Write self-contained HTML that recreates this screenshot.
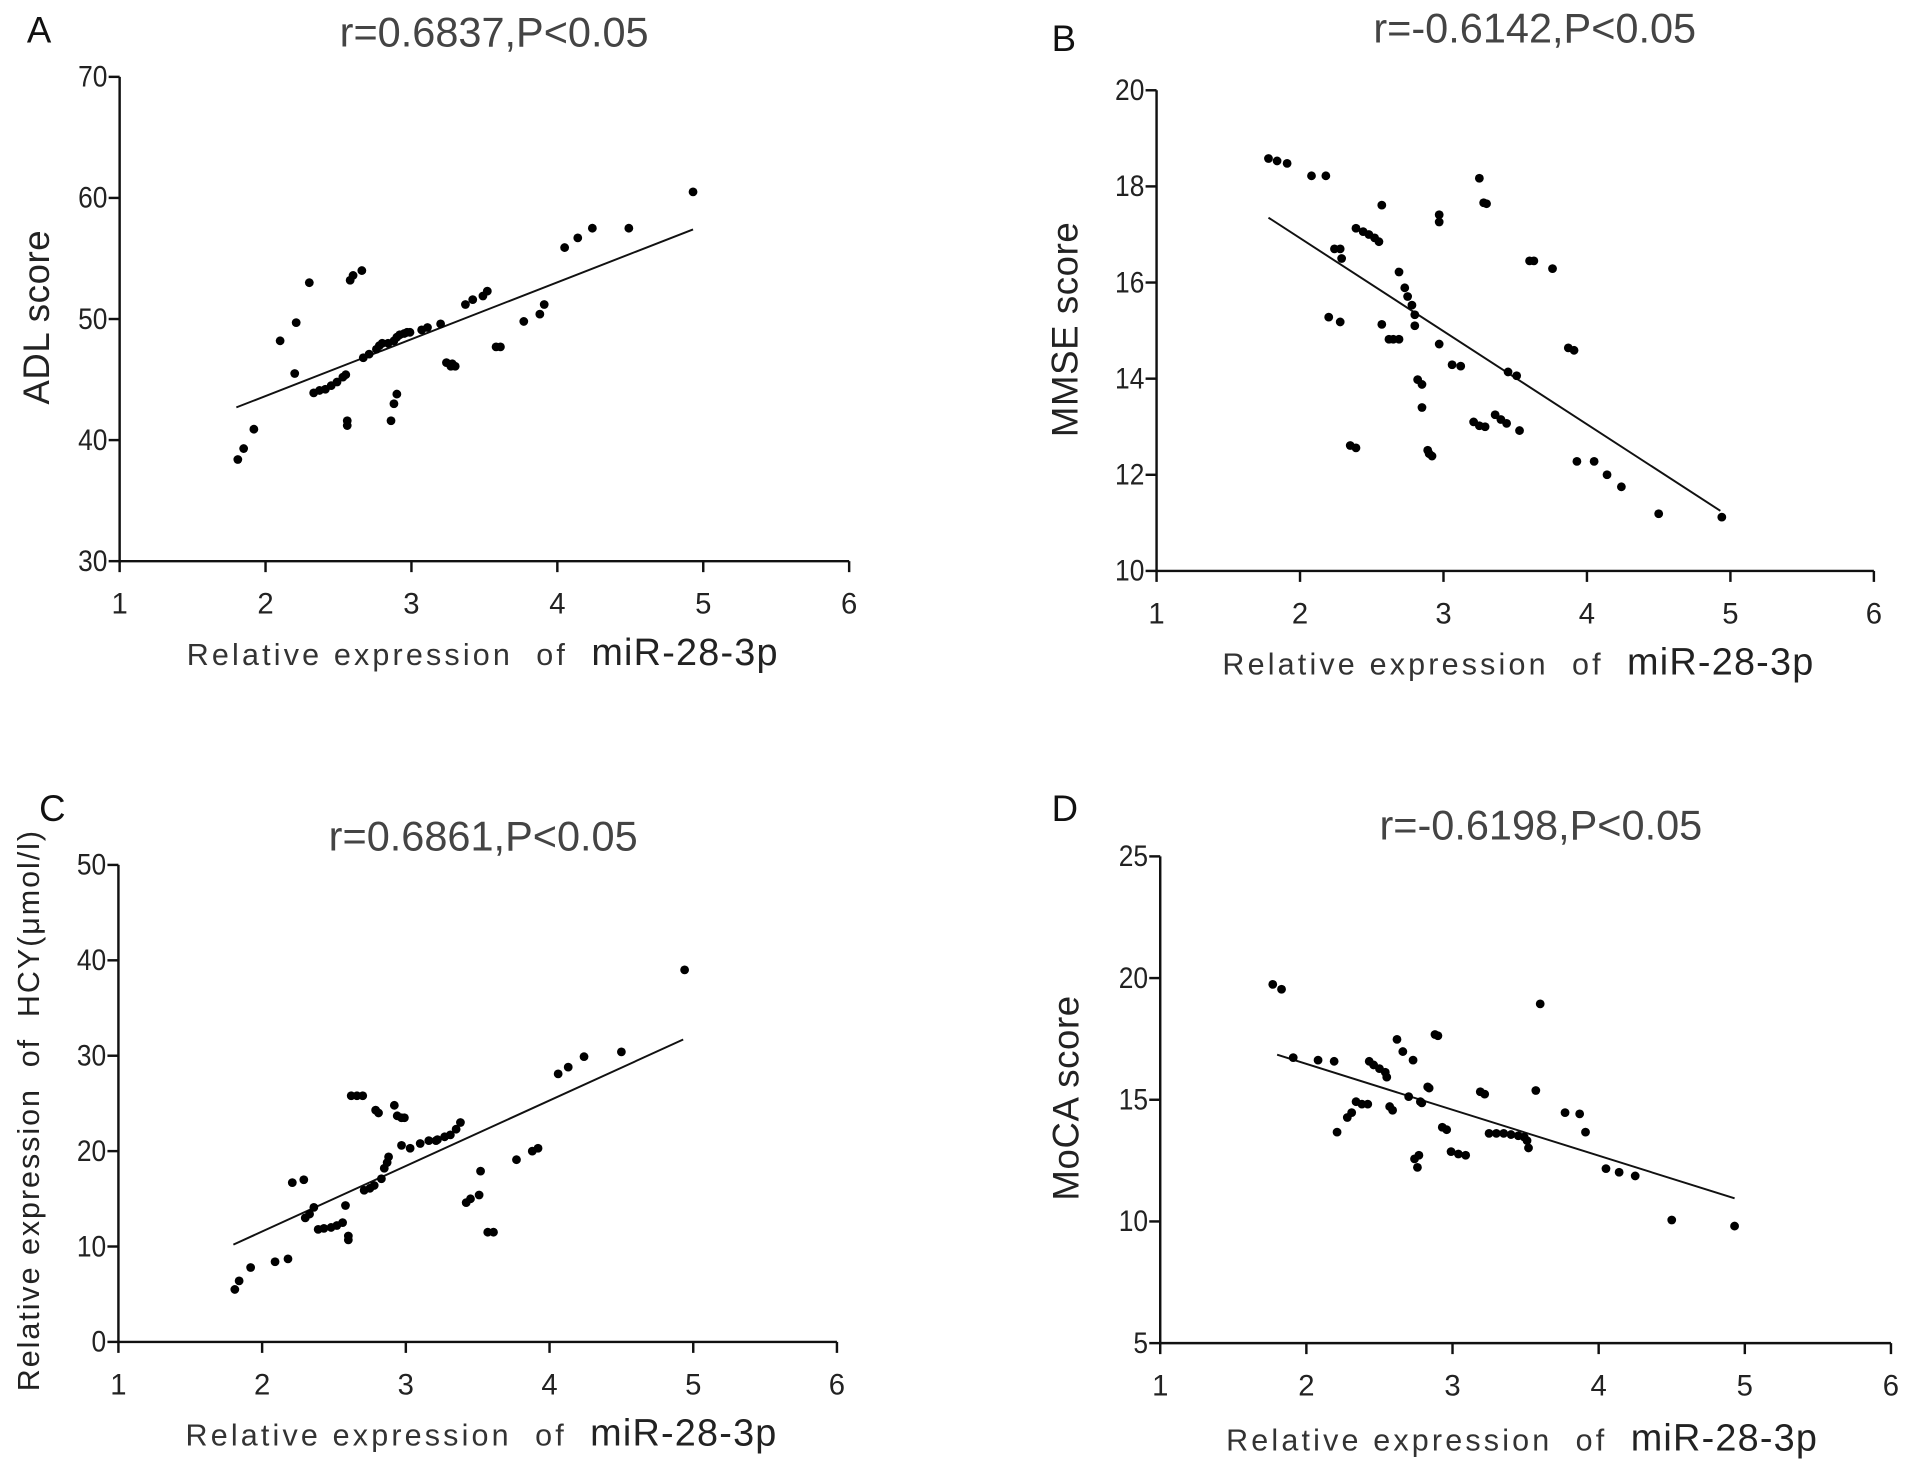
<!DOCTYPE html>
<html><head><meta charset="utf-8">
<style>
html,body{margin:0;padding:0;background:#fff;}
svg{display:block;}
text{font-family:"Liberation Sans",sans-serif;white-space:pre;}
</style></head>
<body>
<svg id="fig" width="1913" height="1470" viewBox="0 0 1568 1205" xmlns="http://www.w3.org/2000/svg"></svg>
<script>
// Panel A: ADL score
const axA = [1.81,1.85,1.92,2.10,2.20,2.21,2.30,2.33,2.37,2.41,2.45,2.49,2.53,2.55,2.56,2.56,2.58,2.60,2.66,2.67,2.71,2.76,2.78,2.80,2.84,2.88,2.90,2.92,2.95,2.97,2.99,2.86,2.88,2.90,3.07,3.11,3.20,3.24,3.27,3.28,3.30,3.37,3.42,3.49,3.52,3.58,3.61,3.77,3.88,3.91,4.05,4.14,4.24,4.49,4.93];
const ayA = [38.4,39.3,40.9,48.2,45.5,49.7,53.0,43.9,44.1,44.2,44.5,44.8,45.2,45.4,41.6,41.2,53.2,53.6,54.0,46.8,47.1,47.5,47.8,48.0,48.0,48.2,48.5,48.7,48.8,48.9,48.9,41.6,43.0,43.8,49.1,49.3,49.6,46.4,46.1,46.3,46.1,51.2,51.6,51.9,52.3,47.7,47.7,49.8,50.4,51.2,55.9,56.7,57.5,57.5,60.5];
const fitA = [[1.8,42.7],[4.93,57.4]];
const yTicksA = [30,40,50,60,70];
// Panel B: MMSE score
const axB = [1.78,1.84,1.91,2.08,2.18,2.24,2.28,2.29,2.20,2.28,2.39,2.44,2.48,2.52,2.55,2.57,2.35,2.39,2.57,2.62,2.65,2.69,2.69,2.73,2.75,2.78,2.80,2.80,2.82,2.85,2.85,2.89,2.90,2.92,2.97,2.97,2.97,3.06,3.12,3.21,3.25,3.29,3.25,3.28,3.30,3.36,3.40,3.44,3.45,3.51,3.53,3.60,3.63,3.76,3.87,3.91,3.93,4.05,4.14,4.24,4.50,4.94];
const ayB = [18.58,18.53,18.48,18.22,18.22,16.70,16.70,16.50,15.28,15.18,17.13,17.06,17.00,16.93,16.85,17.61,12.61,12.56,15.13,14.82,14.82,14.82,16.22,15.89,15.71,15.53,15.33,15.10,13.98,13.88,13.40,12.51,12.44,12.39,14.72,17.41,17.26,14.29,14.26,13.10,13.02,13.00,18.17,17.66,17.64,13.25,13.15,13.07,14.14,14.06,12.92,16.45,16.45,16.29,14.64,14.59,12.28,12.28,12.00,11.75,11.19,11.12];
const fitB = [[1.78,17.35],[4.93,11.25]];
const yTicksB = [10,12,14,16,18,20];
// Panel C: HCY
const axC = [1.81,1.84,1.92,2.09,2.18,2.21,2.29,2.30,2.33,2.36,2.39,2.43,2.48,2.52,2.56,2.58,2.60,2.60,2.62,2.66,2.70,2.71,2.75,2.78,2.79,2.81,2.83,2.85,2.87,2.88,2.92,2.94,2.97,2.99,2.97,3.03,3.10,3.16,3.21,3.22,3.27,3.31,3.35,3.38,3.42,3.45,3.51,3.52,3.57,3.61,3.77,3.88,3.92,4.06,4.13,4.24,4.50,4.94];
const ayC = [5.5,6.4,7.8,8.4,8.7,16.7,17.0,13.0,13.4,14.1,11.8,11.9,12.0,12.2,12.5,14.3,11.1,10.7,25.8,25.8,25.8,15.9,16.1,16.4,24.3,24.0,17.1,18.2,18.8,19.4,24.8,23.7,23.5,23.5,20.6,20.3,20.8,21.1,21.1,21.2,21.5,21.7,22.3,23.0,14.6,15.0,15.4,17.9,11.5,11.5,19.1,20.0,20.3,28.1,28.8,29.9,30.4,39.0];
const fitC = [[1.8,10.2],[4.93,31.7]];
const yTicksC = [0,10,20,30,40,50];
// Panel D: MoCA score
const axD = [1.77,1.83,1.91,2.08,2.19,2.21,2.28,2.31,2.34,2.38,2.42,2.43,2.46,2.50,2.54,2.55,2.57,2.59,2.62,2.66,2.70,2.73,2.74,2.76,2.77,2.78,2.79,2.83,2.84,2.88,2.90,2.93,2.96,2.99,3.04,3.09,3.19,3.22,3.25,3.30,3.35,3.40,3.45,3.49,3.51,3.52,3.57,3.60,3.77,3.87,3.91,4.05,4.14,4.25,4.50,4.93];
const ayD = [19.74,19.54,16.73,16.63,16.58,13.67,14.27,14.47,14.92,14.82,14.82,16.58,16.43,16.28,16.13,15.93,14.72,14.57,17.48,16.98,15.13,16.63,12.57,12.22,12.72,14.92,14.87,15.53,15.48,17.68,17.63,13.87,13.77,12.87,12.77,12.72,15.33,15.23,13.62,13.62,13.62,13.57,13.52,13.47,13.32,13.02,15.38,18.94,14.47,14.42,13.67,12.17,12.02,11.87,10.06,9.81];
const fitD = [[1.8,16.85],[4.93,10.95]];
const yTicksD = [5,10,15,20,25];
const xTicks = [1,2,3,4,5,6];

const NS = 'http://www.w3.org/2000/svg';
const svg = document.getElementById('fig');
function mk(tag, attrs, parent){
  const e = document.createElementNS(NS, tag);
  for (const k in attrs) e.setAttribute(k, attrs[k]);
  (parent||svg).appendChild(e);
  return e;
}
function panel(p){
  const g = mk('g', {});
  
  
  const x0=p.x0, x1=p.x1, yT=p.yT, yB=p.yB;
  const ymin=p.yt[0], ymax=p.yt[p.yt.length-1];
  const sx = v => x0 + (v-1)/5*(x1-x0);
  const sy = v => yB - (v-ymin)/(ymax-ymin)*(yB-yT);
  const ya = mk('line',{x1:x0,y1:yT,x2:x0,y2:yB,stroke:'#111','stroke-width':2},g);
  
  
  const xa = mk('line',{x1:x0,y1:yB,x2:x1,y2:yB,stroke:'#111','stroke-width':2},g);
  
  
  p.yt.forEach(v=>{
    mk('line',{x1:x0-9,y1:sy(v),x2:x0,y2:sy(v),stroke:'#111','stroke-width':2},g);
    const t = mk('text',{x:x0-10,y:sy(v)+8,'text-anchor':'end','font-size':24,fill:'#222',transform:`translate(${x0-10},0) scale(0.9,1) translate(${-(x0-10)},0)`},g);
    t.textContent = v;
    
    
  });
  xTicks.forEach(v=>{
    mk('line',{x1:sx(v),y1:yB,x2:sx(v),y2:yB+9,stroke:'#111','stroke-width':2},g);
    const t = mk('text',{x:sx(v),y:yB+43,'text-anchor':'middle','font-size':24,fill:'#222'},g);
    t.textContent = v;
    
    
  });
  const fl = mk('line',{x1:sx(p.fit[0][0]),y1:sy(p.fit[0][1]),x2:sx(p.fit[1][0]),y2:sy(p.fit[1][1]),stroke:'#111','stroke-width':1.6},g);
  
  
  p.xs.forEach((v,i)=>{
    const c = mk('circle',{cx:sx(v),cy:sy(p.ys[i]),r:3.6,fill:'#000'},g);
    
    
  });
  const L = mk('text',{x:p.lx,y:p.ly,'font-size':30,fill:'#111'},g);
  L.textContent = p.id;
  
  
  const T = mk('text',{x:p.tx,y:p.ty,'text-anchor':'middle','font-size':34,fill:'#444'},g);
  T.textContent = p.title;
  
  
  const Y = mk('text',{x:0,y:0,'text-anchor':'middle','font-size':p.yfs||30,fill:'#222',transform:`translate(${p.ylx},${p.yly}) rotate(-90)`,'letter-spacing':p.yls||0.5},g);
  Y.textContent = p.ylab;
  
  
  const X = mk('text',{x:p.xlx,y:p.xly,'font-size':25,fill:'#333','letter-spacing':2.6},g);
  
  
  const s1 = mk('tspan',{},X); s1.textContent='Relative expression  of  ';
  const s2 = mk('tspan',{'font-size':31,'letter-spacing':1,fill:'#222'},X); s2.textContent='miR-28-3p';
}
panel({id:'A',x0:98,x1:696,yT:63,yB:460,yt:yTicksA,xs:axA,ys:ayA,fit:fitA,lx:22,ly:35,tx:405,ty:38,title:'r=0.6837,P<0.05',ylab:'ADL score',ylx:40,yly:260,xlx:153,xly:545});
panel({id:'B',x0:948,x1:1536,yT:74,yB:468,yt:yTicksB,xs:axB,ys:ayB,fit:fitB,lx:862,ly:42,tx:1258,ty:35,title:'r=-0.6142,P<0.05',ylab:'MMSE score',ylx:883,yly:270,xlx:1002,xly:553});
panel({id:'C',x0:97,x1:686,yT:709,yB:1100,yt:yTicksC,xs:axC,ys:ayC,fit:fitC,lx:32,ly:673,tx:396,ty:697,title:'r=0.6861,P<0.05',ylab:'Relative expression  of  HCY(μmol/l)',ylx:32,yly:910,yfs:25,yls:1.6,xlx:152,xly:1185});
panel({id:'D',x0:951,x1:1550,yT:702,yB:1101,yt:yTicksD,xs:axD,ys:ayD,fit:fitD,lx:862,ly:673,tx:1263,ty:688,title:'r=-0.6198,P<0.05',ylab:'MoCA score',ylx:884,yly:900,xlx:1005,xly:1189});
</script>
</body></html>
